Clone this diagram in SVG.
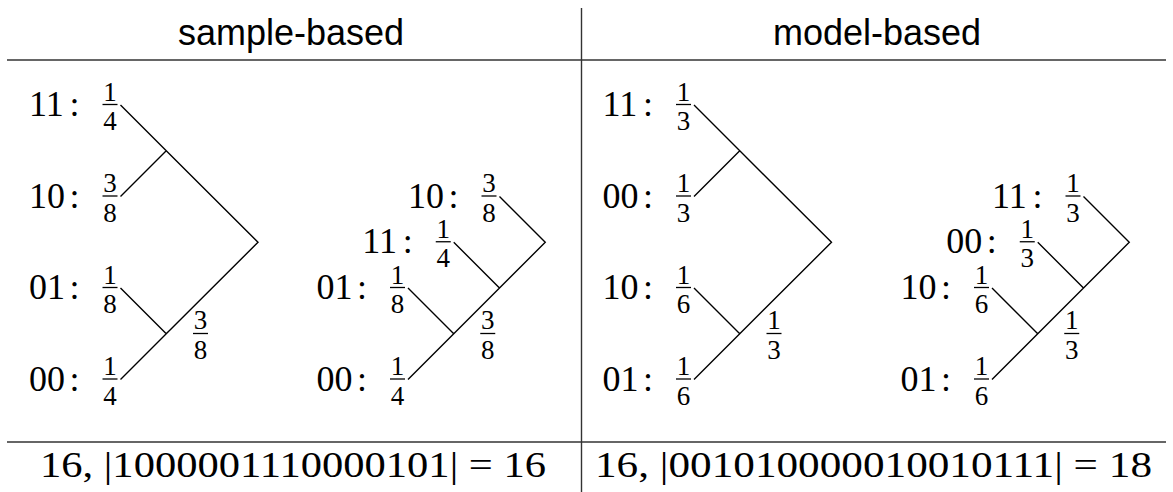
<svg xmlns="http://www.w3.org/2000/svg" width="1173" height="492" viewBox="0 0 1173 492">
<style>
.m{font-family:"Liberation Serif","DejaVu Serif",serif;font-size:36px;fill:#000}
.f{font-family:"Liberation Serif","DejaVu Serif",serif;font-size:27px;fill:#000;text-anchor:middle}
.h{font-family:"Liberation Sans","DejaVu Sans",sans-serif;font-size:36px;fill:#000;text-anchor:middle}
.b{stroke:#000;stroke-width:1.3}
.e{stroke:#000;stroke-width:1.4;fill:none}
.r{stroke:#333;stroke-width:1.4}
</style>
<rect width="1173" height="492" fill="#fff"/>
<g id="table">
<line class="r" x1="581.5" y1="8" x2="581.5" y2="492"/>
<line class="r" x1="7" y1="60" x2="1166" y2="60"/>
<line class="r" x1="7" y1="442" x2="1166" y2="442"/>
<text id="hdr-sample" class="h" x="291" y="45">sample-based</text>
<text id="hdr-model" class="h" x="877" y="45">model-based</text>
<text id="res-sample" class="m" x="40" y="476.5" textLength="506" lengthAdjust="spacingAndGlyphs">16, |1000001110000101| = 16</text>
<text id="res-model" class="m" x="595" y="476.5" textLength="557" lengthAdjust="spacingAndGlyphs">16, |001010000010010111| = 18</text>
</g>
<g id="connectors">
<path class="e" d="M120.5,105 L166.25,150.75 L258,242.25 L166.25,333.75 L120.5,379.5 M120.5,196.5 L166.25,150.75 M120.5,288 L166.25,333.75"/>
<path class="e" d="M499.5,196.5 L545.25,242.25 L408,379.5 M453.75,242.25 L499.5,288 M408,288 L453.75,333.75"/>
<path class="e" d="M694,105 L739.75,150.75 L831.5,242.25 L739.75,333.75 L694,379.5 M694,196.5 L739.75,150.75 M694,288 L739.75,333.75"/>
<path class="e" d="M1083.5,196.5 L1129.25,242.25 L992,379.5 M1037.75,242.25 L1083.5,288 M992,288 L1037.75,333.75"/>
</g>
<g id="t1-11"><text class="m" x="29" y="116">11</text><text class="m" x="69.5" y="116">:</text><text class="f" x="110" y="100.5">1</text><line class="b" x1="102.5" y1="104.5" x2="117.5" y2="104.5"/><text class="f" x="110" y="130">4</text></g>
<g id="t1-10"><text class="m" x="29" y="207.5">10</text><text class="m" x="69.5" y="207.5">:</text><text class="f" x="110" y="192">3</text><line class="b" x1="102.5" y1="196" x2="117.5" y2="196"/><text class="f" x="110" y="221.5">8</text></g>
<g id="t1-01"><text class="m" x="29" y="299">01</text><text class="m" x="69.5" y="299">:</text><text class="f" x="110" y="283.5">1</text><line class="b" x1="102.5" y1="287.5" x2="117.5" y2="287.5"/><text class="f" x="110" y="313">8</text></g>
<g id="t1-00"><text class="m" x="29" y="390.5">00</text><text class="m" x="69.5" y="390.5">:</text><text class="f" x="110" y="375">1</text><line class="b" x1="102.5" y1="379" x2="117.5" y2="379"/><text class="f" x="110" y="404.5">4</text></g>
<g id="t1-edge"><text class="f" x="200.5" y="329">3</text><line class="b" x1="193" y1="333.5" x2="208" y2="333.5"/><text class="f" x="200.5" y="359">8</text></g>
<g id="t2-10"><text class="m" x="408" y="207.5">10</text><text class="m" x="448.5" y="207.5">:</text><text class="f" x="489" y="192">3</text><line class="b" x1="481.5" y1="196" x2="496.5" y2="196"/><text class="f" x="489" y="221.5">8</text></g>
<g id="t2-11"><text class="m" x="362.25" y="253.25">11</text><text class="m" x="402.75" y="253.25">:</text><text class="f" x="443.25" y="237.75">1</text><line class="b" x1="435.75" y1="241.75" x2="450.75" y2="241.75"/><text class="f" x="443.25" y="267.25">4</text></g>
<g id="t2-01"><text class="m" x="316.5" y="299">01</text><text class="m" x="357" y="299">:</text><text class="f" x="397.5" y="283.5">1</text><line class="b" x1="390" y1="287.5" x2="405" y2="287.5"/><text class="f" x="397.5" y="313">8</text></g>
<g id="t2-00"><text class="m" x="316.5" y="390.5">00</text><text class="m" x="357" y="390.5">:</text><text class="f" x="397.5" y="375">1</text><line class="b" x1="390" y1="379" x2="405" y2="379"/><text class="f" x="397.5" y="404.5">4</text></g>
<g id="t2-edge"><text class="f" x="487.75" y="329">3</text><line class="b" x1="480.25" y1="333.5" x2="495.25" y2="333.5"/><text class="f" x="487.75" y="359">8</text></g>
<g id="t3-11"><text class="m" x="602.5" y="116">11</text><text class="m" x="643" y="116">:</text><text class="f" x="683.5" y="100.5">1</text><line class="b" x1="676" y1="104.5" x2="691" y2="104.5"/><text class="f" x="683.5" y="130">3</text></g>
<g id="t3-00"><text class="m" x="602.5" y="207.5">00</text><text class="m" x="643" y="207.5">:</text><text class="f" x="683.5" y="192">1</text><line class="b" x1="676" y1="196" x2="691" y2="196"/><text class="f" x="683.5" y="221.5">3</text></g>
<g id="t3-10"><text class="m" x="602.5" y="299">10</text><text class="m" x="643" y="299">:</text><text class="f" x="683.5" y="283.5">1</text><line class="b" x1="676" y1="287.5" x2="691" y2="287.5"/><text class="f" x="683.5" y="313">6</text></g>
<g id="t3-01"><text class="m" x="602.5" y="390.5">01</text><text class="m" x="643" y="390.5">:</text><text class="f" x="683.5" y="375">1</text><line class="b" x1="676" y1="379" x2="691" y2="379"/><text class="f" x="683.5" y="404.5">6</text></g>
<g id="t3-edge"><text class="f" x="774" y="329">1</text><line class="b" x1="766.5" y1="333.5" x2="781.5" y2="333.5"/><text class="f" x="774" y="359">3</text></g>
<g id="t4-11"><text class="m" x="992" y="207.5">11</text><text class="m" x="1032.5" y="207.5">:</text><text class="f" x="1073" y="192">1</text><line class="b" x1="1065.5" y1="196" x2="1080.5" y2="196"/><text class="f" x="1073" y="221.5">3</text></g>
<g id="t4-00"><text class="m" x="946.25" y="253.25">00</text><text class="m" x="986.75" y="253.25">:</text><text class="f" x="1027.25" y="237.75">1</text><line class="b" x1="1019.75" y1="241.75" x2="1034.75" y2="241.75"/><text class="f" x="1027.25" y="267.25">3</text></g>
<g id="t4-10"><text class="m" x="900.5" y="299">10</text><text class="m" x="941" y="299">:</text><text class="f" x="981.5" y="283.5">1</text><line class="b" x1="974" y1="287.5" x2="989" y2="287.5"/><text class="f" x="981.5" y="313">6</text></g>
<g id="t4-01"><text class="m" x="900.5" y="390.5">01</text><text class="m" x="941" y="390.5">:</text><text class="f" x="981.5" y="375">1</text><line class="b" x1="974" y1="379" x2="989" y2="379"/><text class="f" x="981.5" y="404.5">6</text></g>
<g id="t4-edge"><text class="f" x="1071.75" y="329">1</text><line class="b" x1="1064.25" y1="333.5" x2="1079.25" y2="333.5"/><text class="f" x="1071.75" y="359">3</text></g>
</svg>
